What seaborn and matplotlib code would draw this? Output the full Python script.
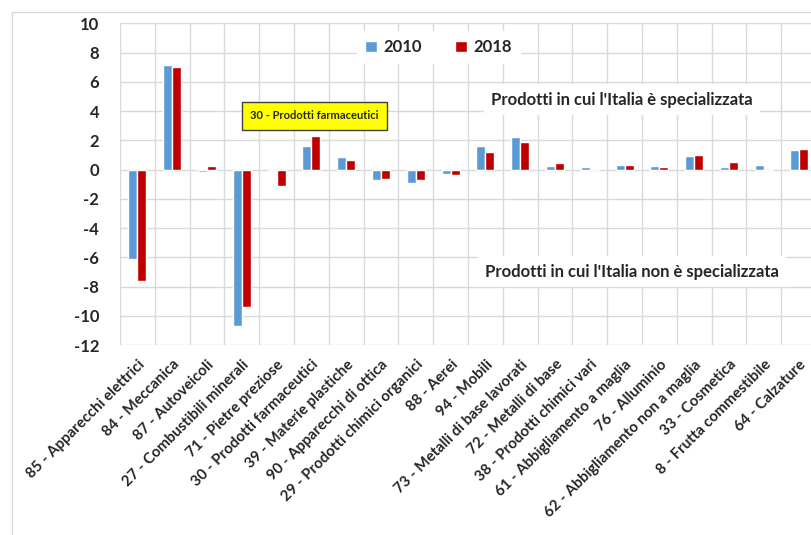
import matplotlib
matplotlib.use("Agg")
import matplotlib.pyplot as plt
from matplotlib.patches import Rectangle
import numpy as np
import pandas as pd
import seaborn as sns

categories = [
    "85 - Apparecchi elettrici", "84 - Meccanica", "87 - Autoveicoli",
    "27 - Combustibili minerali", "71 - Pietre preziose", "30 - Prodotti farmaceutici",
    "39 - Materie plastiche", "90 - Apparecchi di ottica", "29 - Prodotti chimici organici",
    "88 - Aerei", "94 - Mobili", "73 - Metalli di base lavorati", "72 - Metalli di base",
    "38 - Prodotti chimici vari", "61 - Abbigliamento a maglia", "76 - Alluminio",
    "62 - Abbigliamento non a maglia", "33 - Cosmetica", "8 - Frutta commestibile",
    "64 - Calzature",
]
values_2010 = [-6.1, 7.15, -0.15, -10.7, 0.0, 1.6, 0.85, -0.72, -0.95, -0.28,
               1.6, 2.22, 0.25, 0.14, 0.33, 0.25, 0.95, 0.2, 0.3, 1.32]
values_2018 = [-7.6, 7.02, 0.25, -9.4, -1.1, 2.32, 0.68, -0.64, -0.75, -0.4,
               1.18, 1.88, 0.43, 0.0, 0.33, 0.18, 1.02, 0.5, 0.0, 1.41]
years = ["2010", "2018"]
y_ticks = list(range(-12, 11, 2))

df = pd.DataFrame({
    "categoria": categories * 2,
    "anno": [years[0]] * len(categories) + [years[1]] * len(categories),
    "valore": values_2010 + values_2018,
})

sns.set_theme(style="white")
plt.rcParams["font.family"] = ["Lato", "DejaVu Sans"]
plt.rcParams["font.weight"] = "bold"

W, H = 811, 535
fig = plt.figure(figsize=(W / 100, H / 100), dpi=100)
fig.patch.set_facecolor("white")

# outer chart frame
fig.patches.append(Rectangle((12 / W, -0.02), 1.0, 1 - 12 / H + 0.02,
                             transform=fig.transFigure, fill=False,
                             edgecolor="#D9D9D9", linewidth=1.0, zorder=0))

left_px, right_px, top_px, bottom_px = 120, 816, 23.3, 345
ax = fig.add_axes([left_px / W, 1 - bottom_px / H,
                   (right_px - left_px) / W, (bottom_px - top_px) / H])

palette = {"2010": "#5B9BD5", "2018": "#C00000"}
sns.barplot(data=df, x="categoria", y="valore", hue="anno", palette=palette,
            width=0.52, gap=0, saturation=1, ax=ax, zorder=3)

ax.set_ylim(-12, 10)
ax.set_xlim(-0.5, len(categories) - 0.5)
ax.set_yticks(y_ticks)
ax.set_yticklabels([str(v) for v in y_ticks], fontsize=12, fontweight="bold")
ax.set_xticks(range(len(categories)))
ax.set_xticklabels(categories, rotation=45, ha="right", rotation_mode="anchor",
                   fontsize=10.8, fontweight="bold")
ax.tick_params(axis="x", length=0, pad=9)
ax.tick_params(axis="y", length=0, pad=15)
ax.set_xticks(np.arange(-0.5, len(categories), 1.0), minor=True)
ax.grid(False)
ax.grid(True, axis="y", which="major", color="#D9D9D9", linewidth=1.0, zorder=0)
ax.grid(True, axis="x", which="minor", color="#D9D9D9", linewidth=1.0, zorder=0)
ax.set_axisbelow(True)
for s in ax.spines.values():
    s.set_visible(False)
ax.set_xlabel("")
ax.set_ylabel("")

leg = ax.legend(loc="center", bbox_to_anchor=(0.458, 0.925), ncol=2, frameon=True,
                fancybox=False, edgecolor="none", facecolor="white", framealpha=1,
                handlelength=0.7, handleheight=0.7, handletextpad=0.4,
                columnspacing=2.0, borderpad=0.5, prop={"size": 12, "weight": "bold"})
leg.set_zorder(5)

ax.text(0.279, 0.712, "30 - Prodotti farmaceutici", transform=ax.transAxes,
        ha="center", va="center", fontsize=8, fontweight="bold", zorder=6,
        bbox=dict(boxstyle="square,pad=0.75", facecolor="#FFFF00",
                  edgecolor="#404040", linewidth=1.0))

ax.text(0.721, 0.7616, "Prodotti in cui l'Italia è specializzata",
        transform=ax.transAxes, ha="center", va="center", fontsize=12,
        fontweight="bold", zorder=6,
        bbox=dict(boxstyle="square,pad=0.45", facecolor="white", edgecolor="none"))

ax.text(0.7356, 0.227, "Prodotti in cui l'Italia non è specializzata",
        transform=ax.transAxes, ha="center", va="center", fontsize=12,
        fontweight="bold", zorder=6,
        bbox=dict(boxstyle="square,pad=0.45", facecolor="white", edgecolor="none"))

fig.savefig("out.png", dpi=100, facecolor="white")
